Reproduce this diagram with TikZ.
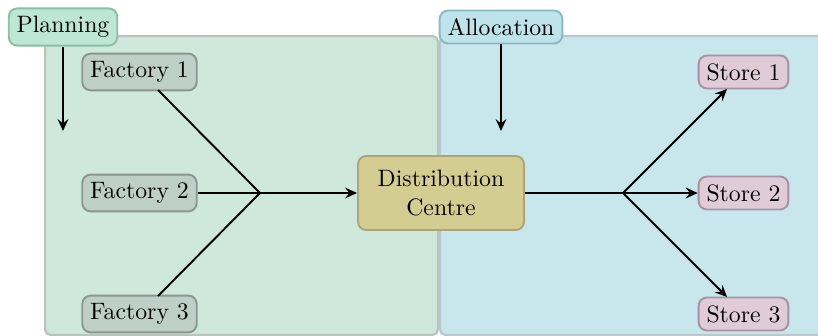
\documentclass[tikz,border=0pt]{standalone}
\usetikzlibrary{arrows.meta}
\definecolor{lpanel}{RGB}{206,233,220}
\definecolor{lpaneld}{RGB}{184,196,190}
\definecolor{rpanel}{RGB}{200,231,236}
\definecolor{rpaneld}{RGB}{184,200,204}
\definecolor{planf}{RGB}{190,230,212}
\definecolor{pland}{RGB}{140,190,165}
\definecolor{factf}{RGB}{190,207,200}
\definecolor{factd}{RGB}{138,150,143}
\definecolor{distf}{RGB}{212,205,146}
\definecolor{distd}{RGB}{173,164,122}
\definecolor{allocf}{RGB}{190,227,234}
\definecolor{allocd}{RGB}{139,184,194}
\definecolor{storef}{RGB}{224,204,216}
\definecolor{stored}{RGB}{168,145,160}
\tikzset{
  panel/.style={rounded corners=2.5pt, line width=1pt},
  box/.style={draw, rounded corners=3.7pt, line width=0.85pt, inner sep=3.5pt,
    font=\fontsize{10.55}{12.7}\selectfont},
  conn/.style={line width=0.85pt, black},
  arr/.style={conn, -{Stealth[length=5.3pt,width=4.8pt,inset=1.9pt]}}
}
\begin{document}
\begin{tikzpicture}[x=0.4444pt, y=-0.4444pt]
\useasboundingbox (0,0) rectangle (818,336);
% panels
\draw[panel, fill=lpanel, draw=lpaneld] (45,36) rectangle (438,335);
\draw[panel, fill=rpanel, draw=rpaneld] (440,36) rectangle (840,335);
% nodes
\node[box, fill=planf, draw=pland] (plan) at (63,27) {Planning};
\node[box, fill=allocf, draw=allocd] (alloc) at (501,27) {Allocation};
\node[box, fill=factf, draw=factd] (f1) at (139.5,72) {Factory 1};
\node[box, fill=factf, draw=factd] (f2) at (139.5,193) {Factory 2};
\node[box, fill=factf, draw=factd] (f3) at (139.5,314) {Factory 3};
\node[box, fill=distf, draw=distd, align=center, minimum width=73.8pt, minimum height=32.9pt] (dc) at (441,193) {Distribution\\Centre};
\node[box, fill=storef, draw=stored] (s1) at (743.5,72) {Store 1};
\node[box, fill=storef, draw=stored] (s2) at (743.5,193) {Store 2};
\node[box, fill=storef, draw=stored] (s3) at (743.5,314) {Store 3};
% junctions and free ends
\coordinate (jl) at (260,193);
\coordinate (jr) at (623,193);
\coordinate (pe) at (63,131);
\coordinate (ae) at (501,131);
\coordinate (f1s) at (158,90);
\coordinate (f3n) at (158,296);
\coordinate (s1s) at (727,89);
\coordinate (s3n) at (727,297);
% connectors
\draw[arr] (plan) -- (pe);
\draw[arr] (alloc) -- (ae);
\draw[conn] (f1s) -- (jl);
\draw[conn] (f2) -- (jl);
\draw[conn] (f3n) -- (jl);
\draw[arr] (jl) -- (dc);
\draw[conn] (dc) -- (jr);
\draw[arr] (jr) -- (s1s);
\draw[arr] (jr) -- (s2);
\draw[arr] (jr) -- (s3n);
\end{tikzpicture}
\end{document}
